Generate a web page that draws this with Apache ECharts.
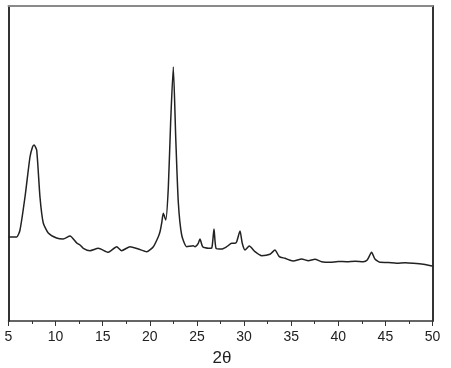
<!DOCTYPE html>
<html>
<head>
<meta charset="utf-8">
<script src="https://cdn.jsdelivr.net/npm/echarts@6/dist/echarts.min.js"></script>
<style>
html,body{margin:0;padding:0;background:#fff;}
#c{width:451px;height:368px;}
</style>
</head>
<body>
<div id="c"></div>
<script>
// 2θ positions (degrees)
const twoTheta = [
  5.00, 5.87, 6.22, 6.75, 7.28, 7.55, 7.71, 7.99, 8.34, 8.69, 9.22,
  10.1, 10.8, 11.53, 12.24, 12.59, 12.94, 13.65, 14.53, 15.59, 16.48,
  17.01, 17.9, 18.78, 19.67, 20.37, 20.9, 21.1, 21.26, 21.43, 21.69,
  21.96, 22.21, 22.49, 22.75, 23.02, 23.38, 23.91, 24.61, 24.79, 25.14,
  25.32, 25.61, 26.2, 26.57, 26.81, 27.03, 27.63, 28.16, 28.69, 29.04,
  29.22, 29.57, 29.81, 30.1, 30.56, 31.16, 31.87, 32.75, 33.28, 33.74,
  34.34, 34.8, 35.23, 36.12, 36.82, 37.52, 38.23, 39.11, 40.0, 40.89,
  41.8, 42.65, 43.07, 43.54, 43.89, 44.42, 45.3, 46.19, 47.1, 47.96,
  49.02, 49.8, 50.0
];
// intensity (arbitrary units)
const intensity = [
  84, 84, 91, 124, 164, 174, 176, 171, 124, 98, 88,
  83, 82, 85, 78, 76, 72.7, 70.3, 72.7, 68.7, 74.3,
  70.3, 74.3, 72, 69.3, 74.3, 84.3, 90, 98, 107.7, 101,
  133, 199, 254, 183, 119, 86, 74.3, 75.3, 74.3, 77.7,
  82, 74.3, 72.7, 73, 92, 72.7, 72, 74.3, 77.7, 77.7,
  79.3, 90, 77.7, 71, 75, 69.3, 65.3, 66.7, 71, 64.3,
  62.7, 61, 60, 62, 60.3, 61.7, 59.3, 58.7, 59.5, 59.3,
  59.8, 59.3, 61, 68.7, 62, 58.7, 58.5, 57.7, 58.2, 57.7,
  56.7, 55.3, 55
];
const xTicks = [5, 10, 15, 20, 25, 30, 35, 40, 45, 50];

const chart = echarts.init(document.getElementById('c'), null, {renderer: 'canvas'});
const data = twoTheta.map((t, i) => [t, intensity[i]]);
chart.setOption({
  animation: false,
  backgroundColor: '#fff',
  grid: {left: 8.5, right: 18.5, top: 6, bottom: 47, containLabel: false, outerBoundsMode: 'none'},
  xAxis: [{
    type: 'value', min: xTicks[0], max: xTicks[xTicks.length - 1], interval: 5,
    position: 'bottom',
    name: '2θ', nameLocation: 'middle', nameGap: 29,
    nameTextStyle: {fontFamily: 'Liberation Sans', fontSize: 17, color: '#222', padding: [0, 0, 0, 3]},
    axisLine: {show: true, onZero: false, lineStyle: {color: '#333', width: 1.5}},
    axisTick: {show: true, inside: false, length: 5, lineStyle: {color: '#333', width: 1}},
    minorTick: {show: true, splitNumber: 2, length: 3, lineStyle: {color: '#333', width: 1}},
    axisLabel: {show: true, margin: 9, fontFamily: 'Liberation Sans', fontSize: 14, color: '#222'},
    splitLine: {show: false}
  }, {
    type: 'value', min: 5, max: 50, position: 'top',
    axisLine: {show: true, onZero: false, lineStyle: {color: '#8a8a8a', width: 2}},
    axisTick: {show: false}, axisLabel: {show: false}, splitLine: {show: false}
  }],
  yAxis: [{
    type: 'value', min: 0, max: 315, position: 'left',
    axisLine: {show: true, onZero: false, lineStyle: {color: '#333', width: 2}},
    axisTick: {show: false}, axisLabel: {show: false}, splitLine: {show: false}
  }, {
    type: 'value', min: 0, max: 315, position: 'right',
    axisLine: {show: true, onZero: false, lineStyle: {color: '#333', width: 2}},
    axisTick: {show: false}, axisLabel: {show: false}, splitLine: {show: false}
  }],
  series: [{
    type: 'line',
    data: data,
    xAxisIndex: 0, yAxisIndex: 0,
    showSymbol: false,
    smooth: 0.2,
    lineStyle: {color: '#222', width: 1.5},
    z: 3
  }]
});
</script>
</body>
</html>
